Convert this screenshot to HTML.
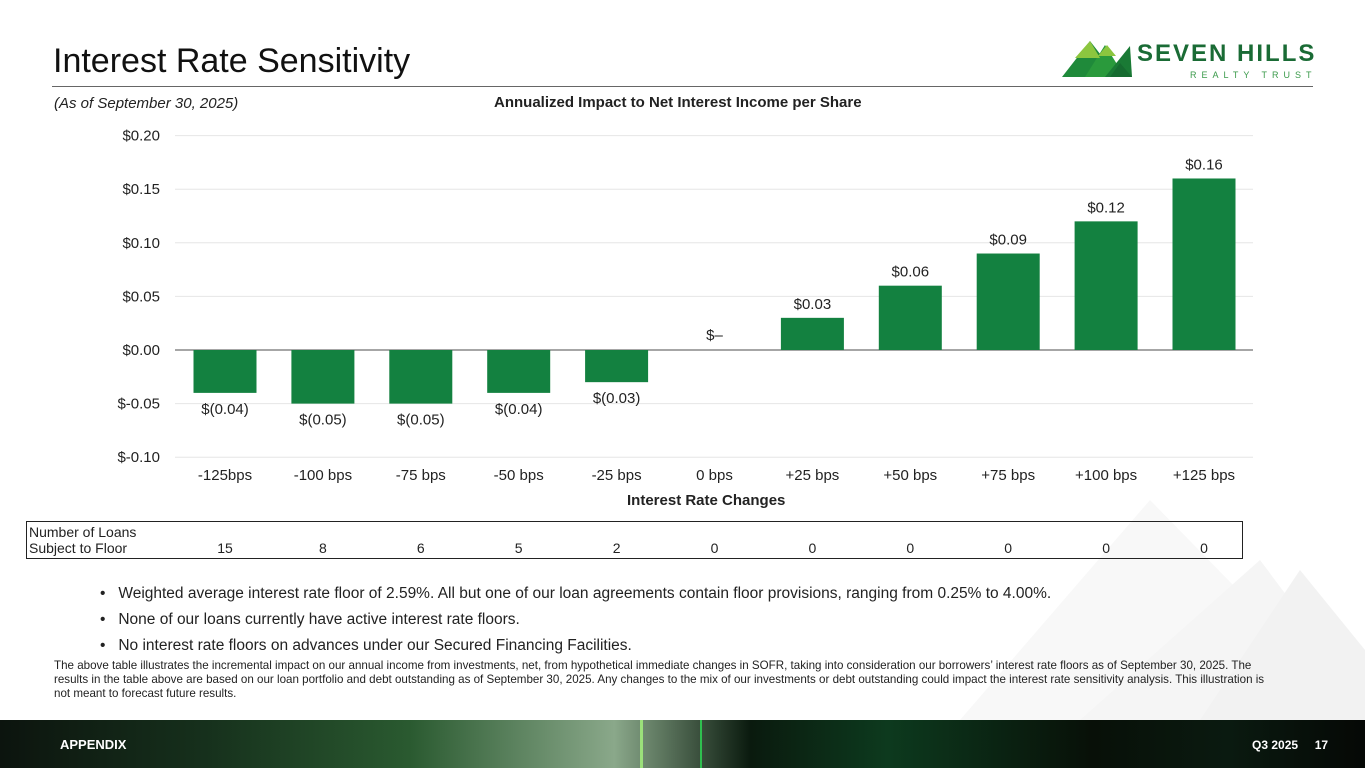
<!DOCTYPE html>
<html><head><meta charset="utf-8"><style>
body{margin:0;width:1365px;height:768px;overflow:hidden;background:#fff;font-family:"Liberation Sans",sans-serif;position:relative;color:#222}
.a{position:absolute}
</style></head><body>
<svg class="a" style="left:0;top:0" width="1365" height="768">
<polygon points="960,720 1150,500 1365,720" fill="#f8f8f8"/>
<polygon points="1080,720 1260,560 1365,700 1365,720" fill="#f5f5f5"/>
<polygon points="1200,720 1300,570 1365,650 1365,720" fill="#f2f2f2"/>
</svg>
<div class="a" style="left:53px;top:42px;font-size:34px;color:#111">Interest Rate Sensitivity</div>
<div class="a" style="left:52px;top:86px;width:1261px;height:1px;background:#666"></div>
<svg class="a" style="left:1060px;top:38px" width="260" height="42">
<polygon points="2,39 30,3 58,39" fill="#1f8a3a"/>
<polygon points="25,39 45,7 65,39" fill="#2a9a3c"/>
<polygon points="45,39 70,8 72,39" fill="#1a7a35"/>
<polygon points="15,20 30,3 40,20" fill="#8cc63f"/>
<polygon points="38,18 47,7 56,18" fill="#8cc63f"/>
<polygon points="50,39 60,25 72,39" fill="#166b30"/>
<text x="77" y="23" font-size="24" font-weight="bold" fill="#1a6b35" letter-spacing="2" font-family="Liberation Sans">SEVEN HILLS</text>
<text x="130" y="40" font-size="9" fill="#3a9a4a" letter-spacing="5" font-family="Liberation Sans">REALTY TRUST</text>
</svg>
<div class="a" style="left:54px;top:95px;font-size:15px;font-style:italic">(As of September 30, 2025)</div>
<div class="a" style="left:494px;top:94px;font-size:15px;font-weight:bold">Annualized Impact to Net Interest Income per Share</div>
<svg id="chart" class="a" style="left:0;top:0" width="1365" height="520"></svg>
<div class="a" style="left:627px;top:492px;font-size:15px;font-weight:bold">Interest Rate Changes</div>
<div class="a" style="left:26px;top:521px;width:1215px;height:36px;border:1.5px solid #222"></div>
<div class="a" style="left:29px;top:524px;font-size:14px;line-height:16px">Number of Loans<br>Subject to Floor</div>
<div id="floorRow"></div>
<div class="a" style="left:100px;top:581px;font-size:15.5px;line-height:26px">
<div>•&nbsp;&nbsp;&nbsp;Weighted average interest rate floor of 2.59%. All but one of our loan agreements contain floor provisions, ranging from 0.25% to 4.00%.</div>
<div>•&nbsp;&nbsp;&nbsp;None of our loans currently have active interest rate floors.</div>
<div>•&nbsp;&nbsp;&nbsp;No interest rate floors on advances under our Secured Financing Facilities.</div>
</div>
<div class="a" style="left:54px;top:659px;width:1225px;font-size:11.6px;line-height:14px">The above table illustrates the incremental impact on our annual income from investments, net, from hypothetical immediate changes in SOFR, taking into consideration our borrowers’ interest rate floors as of September 30, 2025. The results in the table above are based on our loan portfolio and debt outstanding as of September 30, 2025. Any changes to the mix of our investments or debt outstanding could impact the interest rate sensitivity analysis. This illustration is not meant to forecast future results.</div>
<div class="a" style="left:0;top:720px;width:1365px;height:48px;background:linear-gradient(90deg,#0c140e 0%,#16301c 15%,#2a5a30 30%,#8aa88a 45%,#0a1a0e 55%,#0d3a1e 65%,#081008 80%,#0a1a10 90%,#050805 100%)"></div>
<div class="a" style="left:640px;top:720px;width:3px;height:48px;background:#9be07a"></div>
<div class="a" style="left:700px;top:720px;width:2px;height:48px;background:#2fbf4f"></div>
<div class="a" style="left:60px;top:737px;font-size:13px;font-weight:bold;color:#fff">APPENDIX</div>
<div class="a" style="left:1252px;top:738px;font-size:12px;font-weight:bold;color:#fff">Q3 2025&nbsp;&nbsp;&nbsp;&nbsp;&nbsp;17</div>
<script>
const categories=["-125bps","-100 bps","-75 bps","-50 bps","-25 bps","0 bps","+25 bps","+50 bps","+75 bps","+100 bps","+125 bps"];
const values=[-0.04,-0.05,-0.05,-0.04,-0.03,0,0.03,0.06,0.09,0.12,0.16];
const valueLabels=["$(0.04)","$(0.05)","$(0.05)","$(0.04)","$(0.03)","$–","$0.03","$0.06","$0.09","$0.12","$0.16"];
const ticks=[0.20,0.15,0.10,0.05,0.00,-0.05,-0.10];
const tickLabels=["$0.20","$0.15","$0.10","$0.05","$0.00","$-0.05","$-0.10"];
const floors=[15,8,6,5,2,0,0,0,0,0,0];
const ns="http://www.w3.org/2000/svg";
const svg=document.getElementById('chart');
const y=v=>350-v*1072;
const x=i=>225+i*97.9;
const bw=63;
function mk(t,a){const e=document.createElementNS(ns,t);for(const k in a)e.setAttribute(k,a[k]);svg.appendChild(e);return e;}
ticks.forEach((t,i)=>{
 const l=mk('line',{x1:175,x2:1253,y1:y(t),y2:y(t),stroke:t===0?'#888':'#e6e6e6','stroke-width':t===0?1.5:1});
 
 
 const tx=mk('text',{x:160,y:y(t)+5,'text-anchor':'end','font-size':15,fill:'#222'});
 tx.textContent=tickLabels[i];
 
 
});
values.forEach((v,i)=>{
 if(v!==0){
  const r=mk('rect',{x:x(i)-bw/2,y:Math.min(y(v),y(0)),width:bw,height:Math.abs(y(v)-y(0)),fill:'#138140'});
  
  
 }
 const ly=v>0?y(v)-9:(v<0?y(v)+21:y(0)-10);
 const t=mk('text',{x:x(i),y:ly,'text-anchor':'middle','font-size':15,fill:'#222'});
 t.textContent=valueLabels[i];
 
 
 const c=mk('text',{x:x(i),y:480,'text-anchor':'middle','font-size':15,fill:'#222'});
 c.textContent=categories[i];
 
 
});
const fr=document.getElementById('floorRow');
floors.forEach((f,i)=>{
 const d=document.createElement('div');
 d.className='a';
 d.style.cssText='left:'+(x(i)-30)+'px;top:540px;width:60px;text-align:center;font-size:14px';
 d.textContent=f;
 
 
 fr.appendChild(d);
});
</script>
</body></html>
